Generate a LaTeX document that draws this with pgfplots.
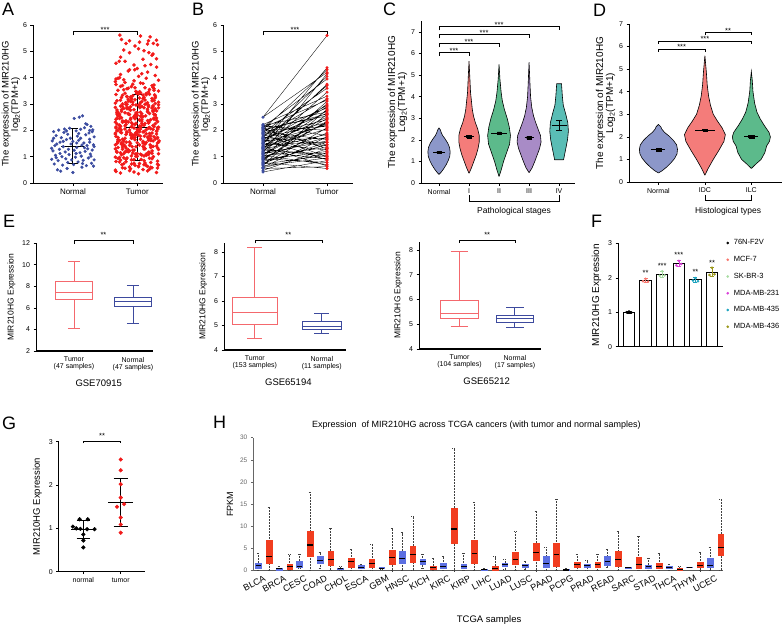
\documentclass[border=0pt]{standalone}
\usepackage{fontspec}
\setmainfont{Liberation Sans}
\usepackage{pgfplots}
\pgfplotsset{compat=1.18}
\usepgfplotslibrary{statistics}
\definecolor{nblue}{HTML}{3B4CA0}
\definecolor{tred}{HTML}{F21A1A}
\definecolor{vN}{HTML}{8C97C9}
\definecolor{vI}{HTML}{F47C7A}
\definecolor{vII}{HTML}{5CBA8B}
\definecolor{vIII}{HTML}{A88BC6}
\definecolor{vIV}{HTML}{5ABDB5}
\definecolor{ered}{HTML}{F4686D}
\definecolor{eblue}{HTML}{3D4A9E}
\definecolor{fmcf}{HTML}{F8766D}
\definecolor{fsk}{HTML}{A8DCA2}
\definecolor{f231}{HTML}{D940D8}
\definecolor{f435}{HTML}{1AA2BE}
\definecolor{f436}{HTML}{9C981C}
\definecolor{gred}{HTML}{F01A1A}
\definecolor{hred}{HTML}{F13D1F}
\definecolor{hblue}{HTML}{5B6FE2}
\newcommand\fs[1]{\fontsize{#1}{#1}\selectfont}
\tikzset{
  st/.style={font=\fs{7.5}, anchor=base, inner sep=0pt},
  letter/.style={anchor=north west, inner sep=0pt, font=\fs{18}},
}
\pgfplotsset{
  base/.style={scale only axis, anchor=south west, axis x line*=bottom, axis y line*=left,
    tick align=outside, major tick length=2.5pt, tick style={black,line width=0.5pt},
    axis line style={black,line width=0.6pt}, tick label style={font=\fs{7}},
    label style={font=\fs{8.5}}, clip=false, /pgf/number format/assume math mode=true},
  br/.style={black,line width=0.6pt},
  hN/.style={boxplot/draw direction=y, boxplot/box extend=0.28, boxplot/whisker extend=0.14,
    boxplot/every box/.style={fill=hblue,draw=hblue},
    boxplot/every whisker/.style={black!75,densely dotted,line width=0.5pt},
    boxplot/every median/.style={black,line width=1.1pt}},
  hT/.style={boxplot/draw direction=y, boxplot/box extend=0.28, boxplot/whisker extend=0.14,
    boxplot/every box/.style={fill=hred,draw=hred},
    boxplot/every whisker/.style={black!75,densely dotted,line width=0.5pt},
    boxplot/every median/.style={black,line width=1.1pt}},
  eT/.style={boxplot/draw direction=y, ered, line width=0.9pt},
  eN/.style={boxplot/draw direction=y, eblue, line width=0.9pt},
}
\newcommand\HB[7]{\addplot[#1, boxplot prepared={draw position=#2, lower whisker=#3, lower quartile=#4, median=#5, upper quartile=#6, upper whisker=#7}] coordinates {};}
\begin{document}
\begin{tikzpicture}
\useasboundingbox (0pt,0pt) rectangle (784pt,-625pt);
\node[letter] at (2pt,-3pt) {A};
\node[letter] at (192pt,-3pt) {B};
\node[letter] at (383pt,-3pt) {C};
\node[letter] at (593pt,-4pt) {D};
\node[letter] at (3pt,-215pt) {E};
\node[letter] at (591pt,-215pt) {F};
\node[letter] at (2pt,-417pt) {G};
\node[letter] at (213pt,-416pt) {H};

% ---------------- A ----------------
\begin{axis}[base, at={(33pt,-183pt)}, width=130pt, height=158pt, xmin=-0.62, xmax=1.4, ymin=0, ymax=6,
  xtick={0,1}, xticklabels={Normal,Tumor}, ytick={0,1,2,3,4,5,6}, x tick label style={font=\fs{8}},
  ylabel={The expression of MIR210HG\\log\textsubscript{2}(TPM+1)}, ylabel style={align=center, font=\fs{9.5}}, ylabel shift=-4pt]
\addplot[only marks, mark=*, mark size=1.4pt, nblue] coordinates {
(-0.30,1.95)(-0.22,2.01)(-0.14,1.92)(0.05,1.98)(0.12,2.04)(0.25,1.90)(0.31,2.02)(-0.05,2.08)(0.18,2.10)(0.22,2.22)
(0.28,2.15)(0.10,2.50)(0.02,2.45)(0.15,2.55)(-0.26,1.80)(-0.18,1.72)(-0.08,1.85)(0.07,1.78)(0.20,1.83)(0.33,1.75)
(-0.32,1.60)(-0.20,1.55)(-0.10,1.65)(0.00,1.58)(0.09,1.62)(0.17,1.52)(0.26,1.66)(0.32,1.45)(-0.28,1.42)(-0.15,1.38)
(-0.03,1.48)(0.06,1.35)(0.14,1.44)(0.23,1.30)(0.30,1.25)(-0.31,1.22)(-0.21,1.28)(-0.12,1.18)(0.02,1.24)(0.11,1.15)
(0.19,1.20)(0.27,1.10)(-0.27,1.05)(-0.17,1.00)(-0.06,1.08)(0.04,0.98)(0.13,1.02)(0.24,0.95)(0.33,0.88)(-0.33,0.90)
(-0.23,0.85)(-0.11,0.92)(0.08,0.80)(0.16,0.86)(0.29,0.75)(-0.29,0.72)(-0.16,0.68)(0.01,0.70)(0.21,0.66)(0.32,0.64)
(-0.24,0.50)(-0.19,0.45)(0.00,0.40)(-0.09,0.55)(0.14,0.60)(-0.33,1.32)(-0.04,1.70)(0.09,1.88)(-0.13,2.05)(0.26,1.55)
(-0.25,1.48)(0.18,1.34)(-0.07,1.28)(0.30,1.95)(-0.20,1.12)(0.05,1.12)(0.22,1.42)(-0.30,1.70)(0.12,1.70)(-0.02,0.88)
(0.26,2.00)(-0.10,1.98)(0.15,0.74)(-0.26,0.96)(0.33,1.38)(0.06,1.52)(-0.15,1.58)(0.20,2.25)(0.28,1.02)(-0.08,0.78)
};
\addplot[only marks, mark=*, mark size=1.6pt, tred] coordinates {
(0.67,2.13)(0.74,0.87)(0.81,3.41)(0.88,1.56)(0.95,2.78)(1.02,0.62)(1.09,1.94)(1.16,3.05)(1.23,1.22)(1.30,2.47)
(0.70,1.73)(0.77,2.91)(0.84,0.95)(0.91,3.22)(0.98,1.38)(1.05,2.05)(1.12,0.71)(1.19,2.64)(1.26,3.58)(1.33,1.11)
(0.685,3.12)(0.755,1.47)(0.825,2.36)(0.895,0.54)(0.965,1.85)(1.035,2.97)(1.105,1.29)(1.175,3.46)(1.245,2.18)(1.315,0.83)
(0.66,0.98)(0.725,2.55)(0.79,1.63)(0.86,2.84)(0.93,3.31)(1.00,1.02)(1.07,2.27)(1.14,0.66)(1.21,1.79)(1.28,3.02)
(0.67,2.42)(0.74,3.67)(0.81,1.18)(0.88,2.01)(0.95,0.75)(1.02,3.38)(1.09,1.52)(1.16,2.73)(1.23,0.92)(1.30,1.96)
(0.70,1.35)(0.77,0.58)(0.84,2.88)(0.91,1.71)(0.98,2.49)(1.05,1.09)(1.12,3.15)(1.19,1.88)(1.26,2.61)(1.33,3.49)
(0.685,2.69)(0.755,1.91)(0.825,0.81)(0.895,3.27)(0.965,2.22)(1.035,1.44)(1.105,0.69)(1.175,2.95)(1.245,1.60)(1.315,2.33)
(0.66,0.49)(0.725,2.08)(0.79,3.54)(0.86,1.26)(0.93,1.82)(1.00,2.57)(1.07,3.09)(1.14,1.05)(1.21,2.40)(1.28,1.67)
(0.67,3.36)(0.74,1.15)(0.81,2.17)(0.88,2.80)(0.95,0.89)(1.02,1.99)(1.09,2.52)(1.16,0.63)(1.23,3.21)(1.30,1.41)
(0.70,1.58)(0.77,3.00)(0.84,1.93)(0.91,0.72)(0.98,2.66)(1.05,3.43)(1.12,1.31)(1.19,2.11)(1.26,1.76)(1.33,2.86)
(0.685,2.24)(0.755,1.07)(0.825,2.98)(0.895,1.50)(0.965,3.62)(1.035,2.39)(1.105,0.85)(1.175,1.69)(1.245,2.75)(1.315,0.57)
(0.66,1.86)(0.725,2.45)(0.79,0.96)(0.86,3.18)(0.93,1.24)(1.00,2.03)(1.07,2.91)(1.14,1.54)(1.21,0.78)(1.28,2.59)
(0.67,3.74)(0.74,2.15)(0.81,1.40)(0.88,0.61)(0.95,2.50)(1.02,1.81)(1.09,3.34)(1.16,2.70)(1.23,1.13)(1.30,1.97)
(0.70,0.93)(0.77,1.66)(0.84,2.82)(0.91,2.29)(0.98,1.01)(1.05,3.06)(1.12,1.48)(1.19,2.37)(1.26,3.52)(1.33,0.68)
(0.685,2.62)(0.755,3.25)(0.825,1.20)(0.895,1.90)(0.965,2.44)(1.035,0.74)(1.105,2.19)(1.175,1.62)(1.245,2.93)(1.315,1.34)
(0.66,1.45)(0.725,0.80)(0.79,2.34)(0.86,3.11)(0.93,1.72)(1.00,2.68)(1.07,1.06)(1.14,3.40)(1.21,2.06)(1.28,2.81)
(0.67,3.95)(0.74,4.12)(0.81,3.82)(0.88,4.30)(0.95,3.88)(1.02,4.05)(1.09,3.78)(1.16,4.21)(1.23,3.70)(1.30,4.40)
(0.70,2.00)(0.77,1.28)(0.84,3.29)(0.91,0.88)(0.98,2.58)(1.05,1.78)(1.12,2.26)(1.19,0.52)(1.26,3.13)(1.33,1.55)
(0.685,1.17)(0.755,2.72)(0.825,1.84)(0.895,2.41)(0.965,0.67)(1.035,3.47)(1.105,1.96)(1.175,2.90)(1.245,1.39)(1.315,2.10)
(0.66,2.87)(0.725,0.97)(0.79,1.59)(0.86,3.60)(0.93,2.23)(1.00,1.12)(1.07,2.63)(1.14,1.87)(1.21,0.60)(1.28,3.24)
(0.67,4.55)(0.74,4.78)(0.81,4.62)(0.88,4.95)(0.95,4.48)(1.02,5.10)(1.09,4.70)(1.16,5.28)(1.23,4.85)(1.30,5.42)
(0.70,1.64)(0.77,2.31)(0.84,2.99)(0.91,1.03)(0.98,1.83)(1.05,2.54)(1.12,0.76)(1.19,3.37)(1.26,2.14)(1.33,1.27)
(0.685,2.46)(0.755,1.52)(0.825,0.90)(0.895,2.76)(0.965,3.16)(1.035,1.95)(1.105,1.36)(1.175,2.28)(1.245,3.63)(1.315,0.71)
(0.66,3.85)(0.725,4.00)(0.79,3.92)(0.86,4.25)(0.93,3.75)(1.00,4.35)(1.07,4.15)(1.14,3.98)(1.21,4.50)(1.28,4.08)
(0.67,0.82)(0.74,1.93)(0.81,2.67)(0.88,1.43)(0.95,2.09)(1.02,0.64)(1.09,3.20)(1.16,1.74)(1.23,2.85)(1.30,2.38)
(0.70,2.55)(0.77,3.33)(0.84,1.21)(0.91,1.70)(0.98,2.96)(1.05,2.12)(1.12,1.49)(1.19,0.94)(1.26,2.43)(1.33,3.07)
(0.73,5.62)(0.755,5.45)(0.825,5.30)(1.05,5.58)(0.965,5.20)(1.035,5.35)(1.105,5.02)(1.175,5.40)(1.245,4.90)(1.315,5.25)
(0.66,1.30)(0.725,2.20)(0.79,0.73)(0.86,2.62)(0.93,1.80)(1.00,3.44)(1.07,2.35)(1.14,1.10)(1.21,1.68)(1.28,2.79)
(0.67,0.44)(0.74,0.38)(0.81,0.56)(0.88,0.47)(0.95,0.42)(1.02,0.35)(1.09,0.51)(1.16,0.46)(1.23,0.58)(1.30,0.40)
(0.70,3.52)(0.77,3.70)(0.84,3.58)(0.91,3.66)(0.98,3.48)(1.05,3.80)(1.12,3.62)(1.19,3.55)(1.26,3.72)(1.33,3.90)
(0.685,1.98)(0.755,2.48)(0.825,1.33)(0.895,2.90)(0.965,1.74)(1.035,2.16)(1.105,3.26)(1.175,1.08)(1.245,2.71)(1.315,1.52)
(0.66,2.31)(0.725,1.62)(0.79,2.83)(0.86,1.19)(0.93,3.08)(1.00,1.85)(1.07,2.52)(1.14,2.02)(1.21,1.41)(1.28,3.30)
(0.67,1.77)(0.74,3.14)(0.81,2.05)(0.88,2.60)(0.95,1.25)(1.02,2.95)(1.09,1.58)(1.16,2.37)(1.23,1.90)(1.30,2.74)
(0.70,2.66)(0.77,1.37)(0.84,1.94)(0.91,3.19)(0.98,2.27)(1.05,1.66)(1.12,2.99)(1.19,1.16)(1.26,2.44)(1.33,2.12)
(0.685,1.50)(0.755,2.78)(0.825,2.30)(0.895,1.82)(0.965,2.57)(1.035,3.23)(1.105,1.03)(1.175,2.09)(1.245,2.89)(1.315,1.71)
(0.66,3.03)(0.725,2.18)(0.79,1.45)(0.86,2.64)(0.93,1.14)(1.00,1.96)(1.07,2.41)(1.14,3.35)(1.21,1.61)(1.28,2.25)
(0.67,2.09)(0.74,2.92)(0.81,1.70)(0.88,1.22)(0.95,2.53)(1.02,2.01)(1.09,1.39)(1.16,2.80)(1.23,3.12)(1.30,1.86)
(0.70,1.56)(0.77,2.35)(0.84,3.28)(0.91,2.14)(0.98,1.92)(1.05,2.69)(1.12,1.30)(1.19,1.79)(1.26,2.47)(1.33,2.97)
(0.685,2.77)(0.755,1.49)(0.825,2.22)(0.895,3.10)(0.965,1.64)(1.035,2.40)(1.105,2.86)(1.175,1.17)(1.245,2.03)(1.315,1.73)
(0.66,1.89)(0.725,2.61)(0.79,1.11)(0.86,2.32)(0.93,2.98)(1.00,1.53)(1.07,2.19)(1.14,3.01)(1.21,1.35)(1.28,2.58)
(0.72,4.62)(1.25,5.30)(0.88,5.40)(1.12,4.45)(0.79,5.05)(1.30,4.72)(1.20,5.55)(0.96,4.30)(1.18,4.95)(0.70,3.98)
(0.68,1.20)(0.75,2.02)(0.83,1.55)(0.90,2.46)(0.97,1.10)(1.04,2.86)(1.11,1.78)(1.18,2.30)(1.25,1.00)(1.32,2.05)
(0.69,2.70)(0.76,0.70)(0.82,3.05)(0.92,1.38)(0.99,3.40)(1.06,0.90)(1.13,2.55)(1.20,1.45)(1.27,3.35)(1.34,1.60)
};
\addplot[black, line width=0.9pt, unbounded coords=jump] coordinates {(-0.18,1.4)(0.18,1.4)(0,nan)(0,0.75)(0,2.08)(0,nan)(-0.08,0.75)(0.08,0.75)(0,nan)(-0.08,2.08)(0.08,2.08)(0,nan)(0.82,2.1)(1.18,2.1)(0,nan)(1,0.85)(1,3.38)(0,nan)(0.92,0.85)(1.08,0.85)(0,nan)(0.92,3.38)(1.08,3.38)};
\addplot[br] coordinates {(0,5.62)(0,5.75)(1,5.75)(1,5.62)};
\node[st] at (axis cs:0.5,5.70) {***};
\end{axis}

% ---------------- B ----------------
\begin{axis}[base, at={(223pt,-183pt)}, width=130pt, height=158pt, xmin=-0.625, xmax=1.406, ymin=0, ymax=6,
  xtick={0,1}, xticklabels={Normal,Tumor}, ytick={0,1,2,3,4,5,6}, x tick label style={font=\fs{8}},
  ylabel={The expression of MIR210HG\\log\textsubscript{2}(TPM+1)}, ylabel style={align=center, font=\fs{9.5}}, ylabel shift=-4pt]
\addplot[black, line width=0.35pt, unbounded coords=jump] coordinates {
(0,0.42)(1,0.85)(0,nan)(0,0.48)(1,1.30)(0,nan)(0,0.55)(1,0.62)(0,nan)(0,0.60)(1,1.75)(0,nan)(0,0.65)(1,0.95)(0,nan)
(0,0.70)(1,2.10)(0,nan)(0,0.72)(1,1.05)(0,nan)(0,0.78)(1,0.55)(0,nan)(0,0.82)(1,1.45)(0,nan)(0,0.85)(1,2.60)(0,nan)
(0,0.88)(1,1.20)(0,nan)(0,0.92)(1,0.78)(0,nan)(0,0.95)(1,1.90)(0,nan)(0,0.98)(1,3.10)(0,nan)(0,1.02)(1,1.35)(0,nan)
(0,1.05)(1,0.70)(0,nan)(0,1.08)(1,2.30)(0,nan)(0,1.12)(1,1.60)(0,nan)(0,1.15)(1,4.15)(0,nan)(0,1.18)(1,0.92)(0,nan)
(0,1.22)(1,2.75)(0,nan)(0,1.25)(1,1.10)(0,nan)(0,1.28)(1,1.85)(0,nan)(0,1.32)(1,3.45)(0,nan)(0,1.35)(1,2.05)(0,nan)
(0,1.38)(1,0.65)(0,nan)(0,1.42)(1,2.50)(0,nan)(0,1.45)(1,1.55)(0,nan)(0,1.48)(1,3.75)(0,nan)(0,1.52)(1,1.25)(0,nan)
(0,1.55)(1,2.20)(0,nan)(0,1.58)(1,2.95)(0,nan)(0,1.62)(1,1.70)(0,nan)(0,1.65)(1,0.88)(0,nan)(0,1.68)(1,2.65)(0,nan)
(0,1.72)(1,4.05)(0,nan)(0,1.75)(1,1.40)(0,nan)(0,1.78)(1,3.20)(0,nan)(0,1.82)(1,2.40)(0,nan)(0,1.85)(1,1.00)(0,nan)
(0,1.88)(1,2.85)(0,nan)(0,1.92)(1,3.60)(0,nan)(0,1.95)(1,1.65)(0,nan)(0,1.98)(1,2.15)(0,nan)(0,2.02)(1,4.30)(0,nan)
(0,2.05)(1,2.55)(0,nan)(0,2.08)(1,1.30)(0,nan)(0,2.12)(1,3.95)(0,nan)(0,2.15)(1,2.00)(0,nan)(0,2.18)(1,2.70)(0,nan)
(0,2.20)(1,1.80)(0,nan)(0,2.22)(1,3.30)(0,nan)(0,2.50)(1,4.20)(0,nan)(0,2.50)(1,5.60)(0,nan)(0,1.10)(1,2.45)(0,nan)
(0,0.75)(1,1.55)(0,nan)(0,1.40)(1,2.90)(0,nan)(0,1.60)(1,3.70)(0,nan)(0,0.90)(1,2.35)(0,nan)(0,1.30)(1,1.00)(0,nan)
(0,1.70)(1,2.30)(0,nan)(0,2.00)(1,2.62)(0,nan)(0,0.58)(1,1.15)(0,nan)(0,1.50)(1,4.38)(0,nan)(0,1.20)(1,3.00)(0,nan)
(0,0.68)(1,2.80)(0,nan)(0,1.90)(1,1.45)(0,nan)(0,2.10)(1,3.15)(0,nan)(0,1.00)(1,1.75)(0,nan)(0,1.36)(1,2.25)
};
\addplot[only marks, mark=*, mark size=1.3pt, nblue] coordinates {
(0,0.42)(0,0.48)(0,0.55)(0,0.60)(0,0.65)(0,0.70)(0,0.72)(0,0.78)(0,0.82)(0,0.85)(0,0.88)(0,0.92)(0,0.95)(0,0.98)
(0,1.02)(0,1.05)(0,1.08)(0,1.12)(0,1.15)(0,1.18)(0,1.22)(0,1.25)(0,1.28)(0,1.32)(0,1.35)(0,1.38)(0,1.42)(0,1.45)
(0,1.48)(0,1.52)(0,1.55)(0,1.58)(0,1.62)(0,1.65)(0,1.68)(0,1.72)(0,1.75)(0,1.78)(0,1.82)(0,1.85)(0,1.88)(0,1.92)
(0,1.95)(0,1.98)(0,2.02)(0,2.05)(0,2.08)(0,2.12)(0,2.15)(0,2.18)(0,2.20)(0,2.22)(0,2.50)(0,1.10)(0,0.75)(0,1.40)
(0,1.60)(0,0.90)(0,1.30)(0,1.70)(0,2.00)(0,0.58)(0,1.50)(0,1.20)(0,0.68)(0,1.90)(0,2.10)(0,1.00)(0,1.36)
};
\addplot[only marks, mark=*, mark size=1.3pt, tred] coordinates {
(1,0.85)(1,1.30)(1,0.62)(1,1.75)(1,0.95)(1,2.10)(1,1.05)(1,0.55)(1,1.45)(1,2.60)(1,1.20)(1,0.78)(1,1.90)(1,3.10)
(1,1.35)(1,0.70)(1,2.30)(1,1.60)(1,4.15)(1,0.92)(1,2.75)(1,1.10)(1,1.85)(1,3.45)(1,2.05)(1,0.65)(1,2.50)(1,1.55)
(1,3.75)(1,1.25)(1,2.20)(1,2.95)(1,1.70)(1,0.88)(1,2.65)(1,4.05)(1,1.40)(1,3.20)(1,2.40)(1,1.00)(1,2.85)(1,3.60)
(1,1.65)(1,2.15)(1,4.30)(1,2.55)(1,1.30)(1,3.95)(1,2.00)(1,2.70)(1,1.80)(1,3.30)(1,4.20)(1,5.60)(1,2.45)(1,1.55)
(1,2.90)(1,3.70)(1,2.35)(1,1.00)(1,2.30)(1,2.62)(1,1.15)(1,4.38)(1,3.00)(1,2.80)(1,1.45)(1,3.15)(1,1.75)(1,2.25)
};
\addplot[br] coordinates {(0,5.62)(0,5.75)(1,5.75)(1,5.62)};
\node[st] at (axis cs:0.5,5.70) {***};
\end{axis}

% ---------------- C ----------------
\begin{axis}[base, at={(421pt,-183pt)}, width=154pt, height=161.8pt, xmin=-0.6, xmax=4.53, ymin=0, ymax=7.5,
  xtick={0,1,2,3,4}, xticklabels={Normal,I,II,III,IV}, ytick={0,1,2,3,4,5,6,7},
  ylabel={The expression of MIR210HG\\Log\textsubscript{2}(TPM+1)}, ylabel style={align=center, font=\fs{10}}, ylabel shift=-3pt]
\addplot[fill=vN, draw=black, line width=0.6pt] coordinates {(0,0.40)(0.07,0.50)(0.15,0.65)(0.24,0.85)(0.31,1.05)(0.36,1.25)(0.37,1.45)(0.35,1.65)(0.29,1.85)(0.20,2.05)(0.12,2.20)(0.07,2.35)(0.05,2.45)(0,2.55)(-0.05,2.45)(-0.07,2.35)(-0.12,2.20)(-0.20,2.05)(-0.29,1.85)(-0.35,1.65)(-0.37,1.45)(-0.36,1.25)(-0.31,1.05)(-0.24,0.85)(-0.15,0.65)(-0.07,0.50)(0,0.40)};
\addplot[fill=vI, draw=black, line width=0.6pt] coordinates {(1,0.45)(1.08,0.7)(1.16,1.0)(1.24,1.3)(1.30,1.6)(1.34,1.9)(1.34,2.2)(1.29,2.5)(1.21,2.8)(1.15,3.1)(1.11,3.4)(1.08,3.8)(1.05,4.2)(1.03,4.8)(1,5.65)(0.97,4.8)(0.95,4.2)(0.92,3.8)(0.89,3.4)(0.85,3.1)(0.79,2.8)(0.71,2.5)(0.66,2.2)(0.66,1.9)(0.70,1.6)(0.76,1.3)(0.84,1.0)(0.92,0.7)(1,0.45)};
\addplot[fill=vII, draw=black, line width=0.6pt] coordinates {(2,0.3)(2.07,0.6)(2.15,1.0)(2.25,1.4)(2.35,1.8)(2.38,2.2)(2.34,2.6)(2.27,3.0)(2.18,3.4)(2.11,3.8)(2.07,4.2)(2.03,4.8)(2,5.5)(1.97,4.8)(1.93,4.2)(1.89,3.8)(1.82,3.4)(1.73,3.0)(1.66,2.6)(1.62,2.2)(1.65,1.8)(1.75,1.4)(1.85,1.0)(1.93,0.6)(2,0.3)};
\addplot[fill=vIII, draw=black, line width=0.6pt] coordinates {(3,0.48)(3.10,0.7)(3.19,1.0)(3.27,1.3)(3.35,1.6)(3.40,1.9)(3.38,2.2)(3.30,2.5)(3.22,2.8)(3.15,3.1)(3.09,3.5)(3.05,4.0)(3.03,4.6)(3,5.6)(2.97,4.6)(2.95,4.0)(2.91,3.5)(2.85,3.1)(2.78,2.8)(2.70,2.5)(2.62,2.2)(2.60,1.9)(2.65,1.6)(2.73,1.3)(2.81,1.0)(2.90,0.7)(3,0.48)};
\addplot[fill=vIV, draw=black, line width=0.6pt] coordinates {(4.15,1.08)(4.21,1.5)(4.28,2.0)(4.31,2.4)(4.29,2.8)(4.22,3.2)(4.14,3.6)(4.11,4.0)(4.09,4.4)(4.08,4.6)(3.92,4.6)(3.91,4.4)(3.89,4.0)(3.86,3.6)(3.78,3.2)(3.71,2.8)(3.69,2.4)(3.72,2.0)(3.79,1.5)(3.85,1.08)(4.15,1.08)};
\addplot[black, line width=0.9pt, unbounded coords=jump] coordinates {(-0.2,1.43)(0.2,1.43)(0,nan)(0.83,2.15)(1.17,2.15)(0,nan)(1.74,2.32)(2.26,2.32)(0,nan)(2.85,2.1)(3.15,2.1)(0,nan)(3.75,2.65)(4.25,2.65)(0,nan)(4,2.42)(4,2.88)(0,nan)(3.9,2.42)(4.1,2.42)(0,nan)(3.9,2.88)(4.1,2.88)};
\addplot[fill=black, draw=black, line width=0.3pt] coordinates {(-0.07,1.38)(0.07,1.38)(0.07,1.48)(-0.07,1.48)(-0.07,1.38)};
\addplot[fill=black, draw=black, line width=0.3pt] coordinates {(0.92,2.09)(1.08,2.09)(1.08,2.21)(0.92,2.21)(0.92,2.09)};
\addplot[fill=black, draw=black, line width=0.3pt] coordinates {(1.94,2.27)(2.06,2.27)(2.06,2.37)(1.94,2.37)(1.94,2.27)};
\addplot[fill=black, draw=black, line width=0.3pt] coordinates {(2.92,2.04)(3.08,2.04)(3.08,2.16)(2.92,2.16)(2.92,2.04)};
\addplot[br] coordinates {(0,5.89)(0,6.06)(1,6.06)(1,5.89)};
\addplot[br] coordinates {(0,6.29)(0,6.46)(2,6.46)(2,6.29)};
\addplot[br] coordinates {(0,6.71)(0,6.88)(3,6.88)(3,6.71)};
\addplot[br] coordinates {(0,7.08)(0,7.25)(4,7.25)(4,7.08)};
\node[st] at (axis cs:0.5,6.02) {***};
\node[st] at (axis cs:1,6.42) {***};
\node[st] at (axis cs:1.5,6.84) {***};
\node[st] at (axis cs:2,7.21) {***};
\addplot[br] coordinates {(1,-0.56)(1,-0.83)(4,-0.83)(4,-0.56)};
\node[font=\fs{8.5}] at (axis cs:2.5,-1.33) {Pathological stages};
\end{axis}

% ---------------- D ----------------
\begin{axis}[base, at={(629pt,-182pt)}, width=153pt, height=158pt, xmin=-0.634, xmax=2.66, ymin=0, ymax=7,
  xtick={0,1,2}, xticklabels={Normal,IDC,ILC}, ytick={0,1,2,3,4,5,6,7},
  ylabel={The expression of MIR210HG\\Log\textsubscript{2}(TPM+1)}, ylabel style={align=center, font=\fs{10}}, ylabel shift=-3pt]
\addplot[fill=vN, draw=black, line width=0.6pt] coordinates {(0,0.4)(0.08,0.5)(0.17,0.65)(0.27,0.85)(0.35,1.05)(0.40,1.25)(0.41,1.45)(0.39,1.65)(0.32,1.85)(0.22,2.05)(0.13,2.2)(0.07,2.35)(0.05,2.45)(0,2.55)(-0.05,2.45)(-0.07,2.35)(-0.13,2.2)(-0.22,2.05)(-0.32,1.85)(-0.39,1.65)(-0.41,1.45)(-0.40,1.25)(-0.35,1.05)(-0.27,0.85)(-0.17,0.65)(-0.08,0.5)(0,0.4)};
\addplot[fill=vI, draw=black, line width=0.6pt] coordinates {(1,0.3)(1.07,0.6)(1.18,1.0)(1.30,1.4)(1.41,1.8)(1.44,2.1)(1.37,2.4)(1.27,2.7)(1.18,3.0)(1.12,3.4)(1.08,3.8)(1.05,4.3)(1.03,4.9)(1,5.6)(0.97,4.9)(0.95,4.3)(0.92,3.8)(0.88,3.4)(0.82,3.0)(0.73,2.7)(0.63,2.4)(0.56,2.1)(0.59,1.8)(0.70,1.4)(0.82,1.0)(0.93,0.6)(1,0.3)};
\addplot[fill=vII, draw=black, line width=0.6pt] coordinates {(2,0.6)(2.10,0.8)(2.21,1.0)(2.29,1.3)(2.33,1.6)(2.39,1.8)(2.41,2.0)(2.38,2.2)(2.28,2.5)(2.19,2.8)(2.12,3.1)(2.07,3.5)(2.035,4.0)(2.02,4.5)(2,4.9)(1.98,4.5)(1.965,4.0)(1.93,3.5)(1.88,3.1)(1.81,2.8)(1.72,2.5)(1.62,2.2)(1.59,2.0)(1.61,1.8)(1.67,1.6)(1.71,1.3)(1.79,1.0)(1.90,0.8)(2,0.6)};
\addplot[black, line width=0.9pt, unbounded coords=jump] coordinates {(-0.15,1.43)(0.15,1.43)(0,nan)(0.79,2.3)(1.21,2.3)(0,nan)(1.85,2.02)(2.15,2.02)};
\addplot[fill=black, draw=black, line width=0.3pt] coordinates {(-0.05,1.38)(0.05,1.38)(0.05,1.48)(-0.05,1.48)(-0.05,1.38)};
\addplot[fill=black, draw=black, line width=0.3pt] coordinates {(0.95,2.26)(1.05,2.26)(1.05,2.34)(0.95,2.34)(0.95,2.26)};
\addplot[fill=black, draw=black, line width=0.3pt] coordinates {(1.94,1.96)(2.06,1.96)(2.06,2.08)(1.94,2.08)(1.94,1.96)};
\addplot[br] coordinates {(0,5.77)(0,5.89)(1,5.89)(1,5.77)};
\addplot[br] coordinates {(0,6.13)(0,6.25)(2,6.25)(2,6.13)};
\addplot[br] coordinates {(1,6.5)(1,6.62)(2,6.62)(2,6.5)};
\node[st] at (axis cs:0.5,5.87) {***};
\node[st] at (axis cs:1,6.23) {***};
\node[st] at (axis cs:1.5,6.60) {**};
\addplot[br] coordinates {(1,-0.58)(1,-0.83)(2,-0.83)(2,-0.58)};
\node[font=\fs{8.5}] at (axis cs:1.5,-1.28) {Histological types};
\end{axis}

% ---------------- E1 ----------------
\begin{axis}[base, at={(36pt,-351pt)}, width=117pt, height=108pt, xmin=-0.644, xmax=1.34, ymin=2, ymax=12,
  ytick={2,4,6,8,10,12}, xtick={0,1}, xticklabels={{Tumor\\(47 samples)},{Normal\\(47 samples)}},
  x tick label style={align=center, font=\fs{7}}, xtick style={draw=none}, x axis line style={line width=1.1pt},
  ylabel={MIR210HG Expression}]
\addplot[eT, boxplot prepared={draw position=0, lower whisker=4.05, lower quartile=6.8, median=7.45, upper quartile=8.4, upper whisker=10.3, box extend=0.63, whisker extend=0.21}] coordinates {};
\addplot[eN, boxplot prepared={draw position=1, lower whisker=4.55, lower quartile=6.1, median=6.55, upper quartile=7.0, upper whisker=8.1, box extend=0.63, whisker extend=0.21}] coordinates {};
\addplot[br] coordinates {(0,11.95)(0,12.28)(1,12.28)(1,11.95)};
\node[st] at ([yshift=2.5pt]axis cs:0.5,12.28) {**};
\node[font=\fs{9.5}] at ([yshift=-32pt]axis cs:0.42,2) {GSE70915};
\end{axis}

% ---------------- E2 ----------------
\begin{axis}[base, at={(224pt,-350pt)}, width=122pt, height=107pt, xmin=-0.46, xmax=1.36, ymin=4, ymax=8.37,
  ytick={4,5,6,7,8}, xtick={0,1}, xticklabels={{Tumor\\(153 samples)},{Normal\\(11 samples)}},
  x tick label style={align=center, font=\fs{7}}, xtick style={draw=none}, x axis line style={line width=1.1pt},
  ylabel={MIR210HG Expression}]
\addplot[eT, boxplot prepared={draw position=0, lower whisker=4.48, lower quartile=5.05, median=5.52, upper quartile=6.13, upper whisker=8.19, box extend=0.67, whisker extend=0.22}] coordinates {};
\addplot[eN, boxplot prepared={draw position=1, lower whisker=4.68, lower quartile=4.84, median=4.95, upper quartile=5.15, upper whisker=5.5, box extend=0.58, whisker extend=0.22}] coordinates {};
\addplot[br] coordinates {(0,8.36)(0,8.49)(1,8.49)(1,8.36)};
\node[st] at ([yshift=2.5pt]axis cs:0.5,8.49) {**};
\node[font=\fs{9.5}] at ([yshift=-32pt]axis cs:0.5,4) {GSE65194};
\end{axis}

% ---------------- E3 ----------------
\begin{axis}[base, at={(419pt,-349pt)}, width=122pt, height=107.2pt, xmin=-0.73, xmax=1.47, ymin=4, ymax=8.33,
  ytick={4,5,6,7,8}, xtick={0,1}, xticklabels={{Tumor\\(104 samples)},{Normal\\(17 samples)}},
  x tick label style={align=center, font=\fs{7}}, xtick style={draw=none}, x axis line style={line width=1.1pt},
  ylabel={MIR210HG Expression}]
\addplot[eT, boxplot prepared={draw position=0, lower whisker=4.9, lower quartile=5.24, median=5.44, upper quartile=5.95, upper whisker=7.93, box extend=0.7, whisker extend=0.32}] coordinates {};
\addplot[eN, boxplot prepared={draw position=1, lower whisker=4.88, lower quartile=5.06, median=5.22, upper quartile=5.35, upper whisker=5.68, box extend=0.68, whisker extend=0.32}] coordinates {};
\addplot[br] coordinates {(0,8.28)(0,8.4)(1,8.4)(1,8.28)};
\node[st] at ([yshift=2.5pt]axis cs:0.5,8.4) {**};
\node[font=\fs{9.5}] at ([yshift=-32pt]axis cs:0.49,4) {GSE65212};
\end{axis}

% ---------------- F ----------------
\begin{axis}[base, at={(618pt,-346.7pt)}, width=105pt, height=103.4pt, xmin=-0.66, xmax=5.66, ymin=0, ymax=3,
  ytick={0,1,2,3}, xtick=\empty, ylabel={MIR210HG Expression}, ylabel style={font=\fs{10}}, legend cell align=left,
  legend style={at={(axis cs:5.87,3.17)}, anchor=north west, draw=none, fill=none, inner sep=0pt,
    font=\fs{7.5}, row sep=6pt, column sep=3pt},
  legend image code/.code={\draw[#1] plot coordinates {(0pt,0pt)};}]
\addplot[ybar, bar width=11.5pt, fill=white, draw=black, line width=1pt, forget plot] coordinates {(0,1.0)(1,1.92)(2,2.1)(3,2.42)(4,1.95)(5,2.15)};
\addplot[black, line width=0.6pt, forget plot, unbounded coords=jump] coordinates {(0,0.98)(0,1.02)(0,nan)(-0.12,0.98)(0.12,0.98)(0,nan)(-0.12,1.02)(0.12,1.02)};
\addplot[fmcf, line width=0.6pt, forget plot, unbounded coords=jump] coordinates {(1,1.87)(1,1.98)(0,nan)(0.88,1.87)(1.12,1.87)(0,nan)(0.88,1.98)(1.12,1.98)};
\addplot[fsk, line width=0.6pt, forget plot, unbounded coords=jump] coordinates {(2,2.02)(2,2.2)(0,nan)(1.88,2.02)(2.12,2.02)(0,nan)(1.88,2.2)(2.12,2.2)};
\addplot[f231, line width=0.6pt, forget plot, unbounded coords=jump] coordinates {(3,2.34)(3,2.5)(0,nan)(2.88,2.34)(3.12,2.34)(0,nan)(2.88,2.5)(3.12,2.5)};
\addplot[f435, line width=0.6pt, forget plot, unbounded coords=jump] coordinates {(4,1.88)(4,2.0)(0,nan)(3.88,1.88)(4.12,1.88)(0,nan)(3.88,2.0)(4.12,2.0)};
\addplot[f436, line width=0.6pt, forget plot, unbounded coords=jump] coordinates {(5,2.05)(5,2.3)(0,nan)(4.88,2.05)(5.12,2.05)(0,nan)(4.88,2.3)(5.12,2.3)};
\addplot[only marks, mark=*, mark size=1.1pt, black] coordinates {(-0.15,1.0)(0,1.02)(0.15,0.99)};
\addlegendentry{76N-F2V}
\addplot[only marks, mark=*, mark size=1.1pt, fmcf] coordinates {(0.85,1.9)(1,1.97)(1.15,1.89)};
\addlegendentry{MCF-7}
\addplot[only marks, mark=*, mark size=1.1pt, fsk] coordinates {(1.85,2.06)(2,2.19)(2.15,2.07)};
\addlegendentry{SK-BR-3}
\addplot[only marks, mark=*, mark size=1.1pt, f231] coordinates {(2.85,2.36)(3,2.49)(3.15,2.4)};
\addlegendentry{MDA-MB-231}
\addplot[only marks, mark=*, mark size=1.1pt, f435] coordinates {(3.85,1.92)(4,1.99)(4.15,1.9)};
\addlegendentry{MDA-MB-435}
\addplot[only marks, mark=*, mark size=1.1pt, f436] coordinates {(4.85,2.08)(5,2.29)(5.15,2.1)};
\addlegendentry{MDA-MB-436}
\node[st] at (axis cs:1,2.06) {**};
\node[st] at (axis cs:2,2.28) {***};
\node[st] at (axis cs:3,2.59) {***};
\node[st] at (axis cs:4,2.09) {**};
\node[st] at (axis cs:5,2.35) {**};
\end{axis}

% ---------------- G ----------------
\begin{axis}[base, at={(58.7pt,-571.7pt)}, width=86.3pt, height=130pt, xmin=-0.66, xmax=1.65, ymin=0, ymax=3,
  ytick={0,1,2,3}, xtick={0,1}, xticklabels={normal,tumor}, ylabel={MIR210HG Expression}, ylabel style={font=\fs{9.5}}]
\addplot[only marks, mark=*, mark size=1.9pt, black] coordinates {(-0.28,1.04)(-0.1,1.21)(0.12,1.21)(-0.08,0.99)(0.1,0.98)(0.3,0.98)(0.0,0.86)(0.0,0.72)(0.0,0.56)(-0.19,1.0)};
\addplot[only marks, mark=*, mark size=1.9pt, gred] coordinates {(1,2.59)(1,2.34)(1,2.02)(1,1.71)(1.09,1.56)(0.9,1.5)(1,1.25)(1,1.09)(1,0.9)};
\addplot[black, line width=0.9pt, unbounded coords=jump] coordinates {(-0.33,0.97)(0.33,0.97)(0,nan)(0,0.76)(0,1.18)(0,nan)(-0.18,0.76)(0.18,0.76)(0,nan)(-0.18,1.18)(0.18,1.18)(0,nan)(0.67,1.6)(1.33,1.6)(0,nan)(1,1.04)(1,2.16)(0,nan)(0.81,1.04)(1.19,1.04)(0,nan)(0.81,2.16)(1.19,2.16)};
\addplot[br] coordinates {(0,2.96)(0,3.02)(1,3.02)(1,2.96)};
\node[st] at ([yshift=2.5pt]axis cs:0.5,3.02) {**};
\end{axis}

% ---------------- H ----------------
\begin{axis}[base, at={(253.3pt,-570.7pt)}, width=469.7pt, height=133pt, xmin=-0.51, xmax=22.37, ymin=0, ymax=30,
  ytick={0,5,10,15,20,25,30}, y tick label style={gray!80!black, font=\fs{6.5}},
  xtick={0,...,22}, xticklabels={BLCA,BRCA,CESC,COAD,CHOL,ESCA,GBM,HNSC,KICH,KIRC,KIRP,LIHC,LUAD,LUSC,PAAD,PCPG,PRAD,READ,SARC,STAD,THCA,THYM,UCEC},
  x tick label style={rotate=28, anchor=north east, font=\fs{9}, inner sep=1pt},
  xtick style={draw=none}, x axis line style={line width=1.4pt, black!65},
  y axis line style={black!60}, ytick style={black!60},
  ylabel={FPKM}, ylabel style={font=\fs{9}}]
\HB{hN}{-0.26}{0.1}{0.55}{1.2}{1.8}{4.0}
\HB{hT}{0.26}{0}{1.8}{3.3}{6.9}{14.3}
\HB{hN}{0.74}{0}{0.2}{0.45}{0.6}{1.1}
\HB{hT}{1.26}{0}{0.45}{1.05}{1.5}{3.7}
\HB{hN}{1.74}{0.5}{0.8}{0.9}{2.2}{3.7}
\HB{hT}{2.26}{0}{3.3}{5.8}{8.8}{17.8}
\HB{hN}{2.74}{0.6}{1.7}{2.4}{3.3}{4.2}
\HB{hT}{3.26}{0}{1.3}{2.6}{4.5}{9.6}
\HB{hN}{3.74}{0.2}{0.35}{0.5}{0.65}{0.9}
\HB{hT}{4.26}{0}{0.9}{2.0}{2.8}{4.8}
\HB{hN}{4.74}{0.1}{0.55}{0.8}{1.2}{1.5}
\HB{hT}{5.26}{0}{0.9}{1.7}{2.6}{6.0}
\HB{hN}{5.74}{0.4}{0.5}{0.6}{0.7}{0.8}
\HB{hT}{6.26}{0}{1.4}{2.9}{4.6}{9.6}
\HB{hN}{6.74}{0.1}{1.7}{2.7}{4.5}{8.6}
\HB{hT}{7.26}{0}{2.0}{3.7}{5.6}{12.2}
\HB{hN}{7.74}{0.6}{1.4}{2.0}{2.6}{3.7}
\HB{hT}{8.26}{0}{0.3}{0.7}{1.1}{2.8}
\HB{hN}{8.74}{0}{0.5}{0.9}{1.7}{3.3}
\HB{hT}{9.26}{0}{6.1}{9.4}{14.2}{27.6}
\HB{hN}{9.74}{0}{0.5}{0.9}{1.5}{3.9}
\HB{hT}{10.26}{0}{1.8}{3.8}{6.9}{15.4}
\HB{hN}{10.74}{0}{0.1}{0.25}{0.45}{0.6}
\HB{hT}{11.26}{0}{0.15}{0.6}{1.1}{3.2}
\HB{hN}{11.74}{0.3}{1.05}{1.4}{1.8}{2.6}
\HB{hT}{12.26}{0}{1.5}{2.6}{4.15}{8.8}
\HB{hN}{12.74}{0.3}{0.9}{1.2}{1.5}{2.2}
\HB{hT}{13.26}{0}{2.4}{4.15}{6.3}{13.5}
\HB{hN}{13.74}{0.2}{0.8}{1.7}{3.2}{5.4}
\HB{hT}{14.26}{0}{1.1}{3.7}{6.2}{16.2}
\HB{hN}{14.74}{0}{0.05}{0.15}{0.3}{0.45}
\HB{hT}{15.26}{0}{0.9}{1.35}{1.9}{3.7}
\HB{hN}{15.74}{0.2}{0.9}{1.2}{1.5}{2.3}
\HB{hT}{16.26}{0}{0.8}{1.3}{1.9}{3.7}
\HB{hN}{16.74}{0.7}{1.3}{2.1}{3.2}{4.8}
\HB{hT}{17.26}{0}{1.1}{2.57}{4.3}{8.8}
\HB{hN}{17.74}{0.6}{0.65}{0.7}{0.75}{0.8}
\HB{hT}{18.26}{0}{0.5}{1.5}{3.0}{7.8}
\HB{hN}{18.74}{0.2}{0.6}{1.05}{1.3}{2.8}
\HB{hT}{19.26}{0}{0.5}{0.9}{1.7}{4.0}
\HB{hN}{19.74}{0.2}{0.5}{0.7}{1.0}{1.5}
\HB{hT}{20.26}{0}{0.1}{0.2}{0.5}{0.9}
\HB{hN}{20.74}{0.75}{0.78}{0.8}{0.82}{0.85}
\HB{hT}{21.26}{0}{0.7}{1.2}{1.9}{4.1}
\HB{hN}{21.74}{0.1}{0.7}{1.2}{2.8}{5.4}
\HB{hT}{22.26}{0.2}{3.4}{5.3}{8.3}{16.2}
\node[font=\fs{9}] at (rel axis cs:0.475,1.095) {Expression\ \ of MIR210HG across TCGA cancers (with tumor and normal samples)};
\node[font=\fs{9.5}] at (rel axis cs:0.502,-0.37) {TCGA samples};
\end{axis}
\end{tikzpicture}
\end{document}
